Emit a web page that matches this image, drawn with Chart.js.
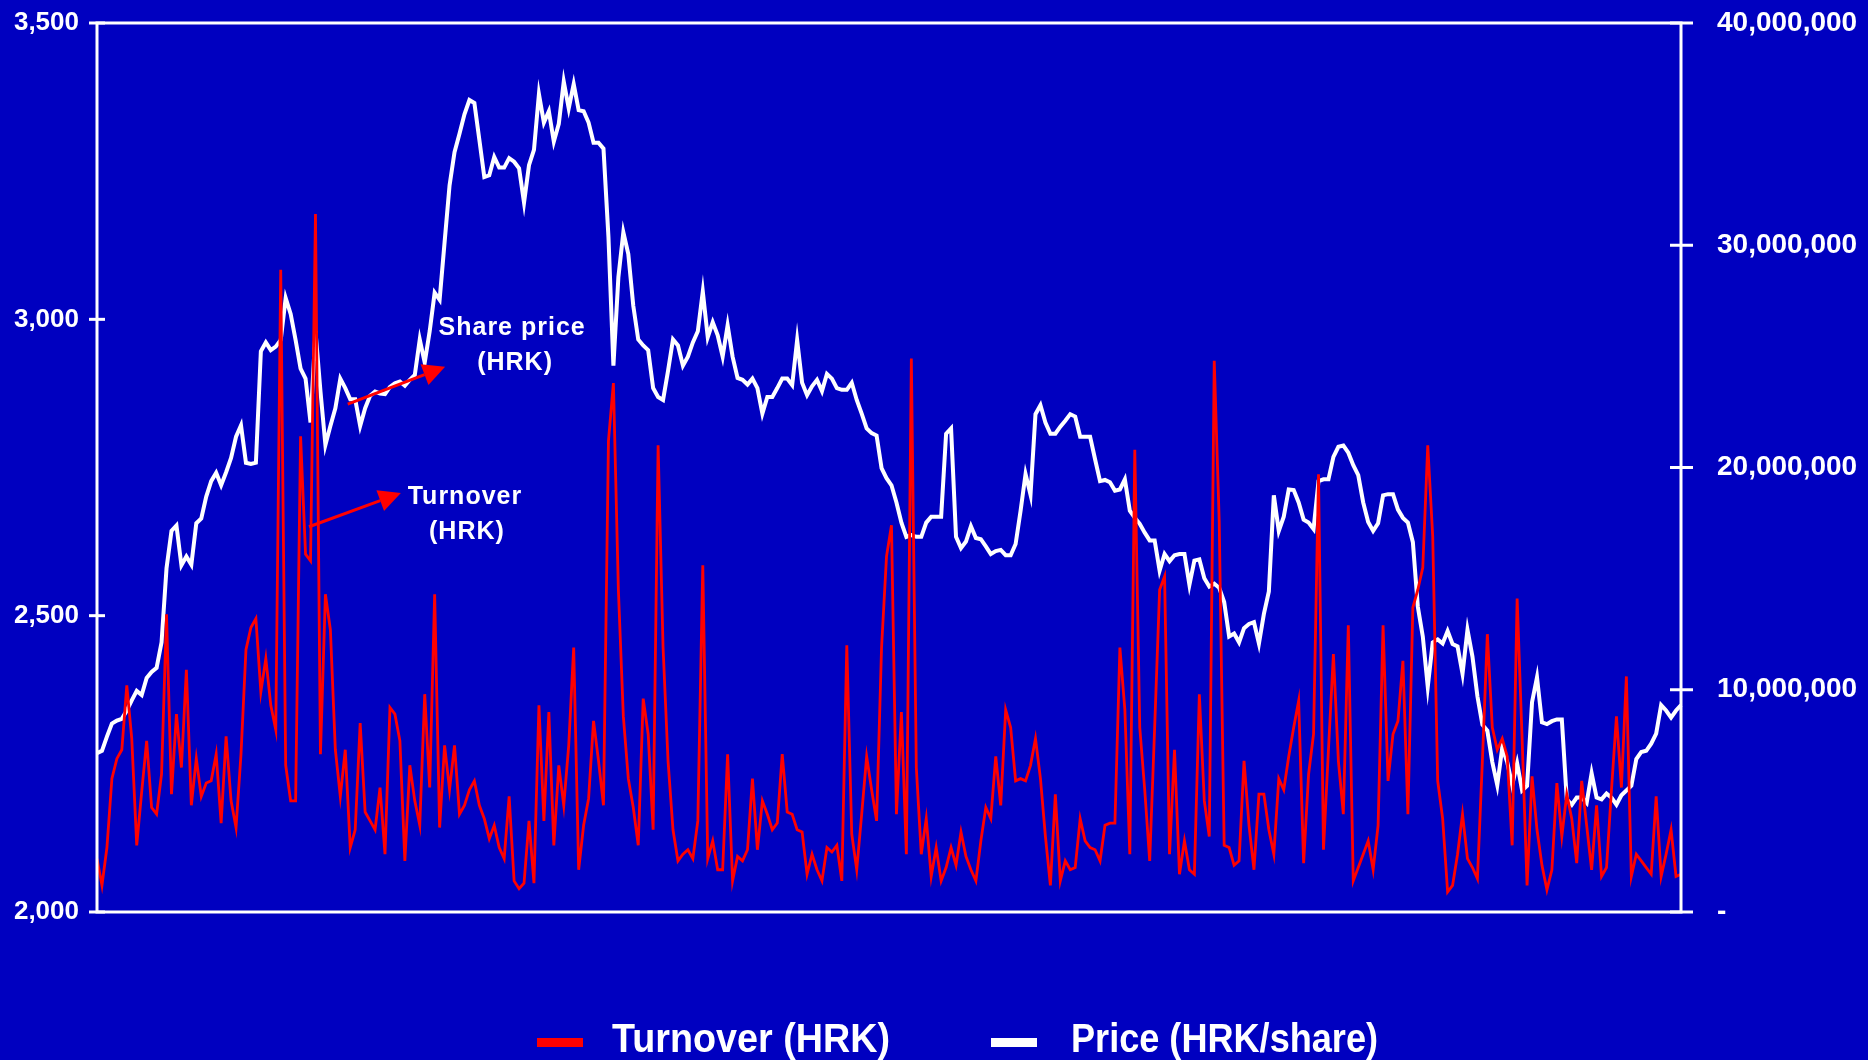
<!DOCTYPE html>
<html>
<head>
<meta charset="utf-8">
<script src="https://cdn.jsdelivr.net/npm/chart.js@4.4.1/dist/chart.umd.min.js"></script>
<style>
  html, body { margin: 0; padding: 0; background: #0000C0; }
  #wrap { width: 1868px; height: 1060px; }
  canvas { display: block; background: #0000C0; }
</style>
</head>
<body>
<div id="wrap"><canvas id="c" width="1868" height="1060"></canvas></div>
<script>
// Share price (HRK/share), daily
const price = [
  2268, 2272, 2296, 2318, 2323, 2326, 2340, 2357, 2373, 2366,
  2395, 2405, 2412, 2455, 2580, 2643, 2652, 2585, 2600, 2586,
  2656, 2664, 2701, 2727, 2741, 2720, 2742, 2766, 2802, 2821,
  2758, 2756, 2758, 2946, 2961, 2948, 2954, 2965, 3036, 3009,
  2965, 2917, 2900, 2826, 2980, 2879, 2788, 2820, 2850, 2900,
  2884, 2865, 2865, 2820, 2850, 2871, 2878, 2875, 2874, 2886,
  2892, 2895, 2888, 2898, 2906, 2966, 2927, 2980, 3045, 3033,
  3130, 3226, 3282, 3313, 3346, 3370, 3365, 3303, 3240, 3243,
  3274, 3256, 3256, 3272, 3266, 3255, 3197, 3260, 3286, 3380,
  3332, 3351, 3300, 3330, 3401, 3356, 3397, 3353, 3351, 3332,
  3298, 3298, 3288, 3139, 2922, 3071, 3147, 3110, 3023, 2966,
  2956, 2948, 2884, 2869, 2864, 2913, 2966, 2956, 2922, 2937,
  2961, 2980, 3047, 2970, 2995, 2973, 2937, 2990, 2937, 2901,
  2898, 2890, 2900, 2884, 2841, 2869, 2869, 2884, 2900, 2900,
  2889, 2965, 2893, 2872, 2887, 2898, 2879, 2908, 2900, 2884,
  2881, 2881, 2893, 2864, 2841, 2816, 2808, 2804, 2749, 2732,
  2720, 2691, 2657, 2633, 2636, 2633, 2633, 2657, 2667, 2667,
  2667, 2807, 2816, 2633, 2614, 2625, 2651, 2631, 2629, 2617,
  2604, 2609, 2611, 2602, 2602, 2621, 2677, 2739, 2704, 2840,
  2855, 2826, 2807, 2807, 2819, 2829, 2840, 2836, 2802, 2802,
  2802, 2764, 2727, 2729, 2725, 2711, 2713, 2730, 2677, 2665,
  2655, 2640, 2627, 2627, 2576, 2604, 2592, 2602, 2604, 2604,
  2552, 2593, 2595, 2563, 2549, 2554, 2547, 2523, 2465, 2470,
  2455, 2479, 2486, 2489, 2453, 2503, 2541, 2703, 2643, 2667,
  2713, 2712, 2691, 2662, 2657, 2646, 2727, 2730, 2730, 2768,
  2785, 2787, 2775, 2754, 2737, 2691, 2658, 2643, 2656, 2703,
  2705, 2705, 2679, 2665, 2657, 2624, 2515, 2465, 2380, 2455,
  2460, 2453, 2474, 2452, 2448, 2402, 2476, 2431, 2364, 2316,
  2306, 2253, 2214, 2277, 2253, 2214, 2251, 2205, 2213, 2354,
  2396, 2320, 2317, 2322, 2325, 2325, 2190, 2181, 2193, 2193,
  2184, 2234, 2193, 2190, 2200, 2193, 2181, 2197, 2205, 2213,
  2258, 2270, 2272, 2284, 2301, 2349, 2340, 2328, 2340, 2349
];

// Daily turnover, millions of HRK
const turnoverM = [
  2.4, 1.2, 2.9, 6.0, 6.9, 7.3, 10.2, 7.8, 3.0, 5.4,
  7.7, 4.7, 4.4, 6.2, 13.4, 5.3, 8.9, 6.5, 10.9, 4.8,
  6.9, 5.2, 5.8, 5.9, 7.1, 4.0, 7.9, 5.0, 3.8, 7.1,
  11.8, 12.8, 13.2, 9.9, 11.4, 9.3, 8.2, 28.9, 6.6, 5.0,
  5.0, 21.4, 16.1, 15.8, 31.4, 7.1, 14.3, 12.7, 7.3, 5.2,
  7.3, 2.9, 3.7, 8.5, 4.5, 4.1, 3.7, 5.6, 2.6, 9.2,
  8.9, 7.7, 2.3, 6.6, 5.0, 3.9, 9.8, 5.6, 14.3, 3.8,
  7.5, 5.5, 7.5, 4.4, 4.8, 5.5, 5.9, 4.8, 4.2, 3.3,
  3.9, 2.9, 2.4, 5.2, 1.4, 1.05, 1.3, 4.1, 1.3, 9.3,
  4.1, 9.0, 3.0, 6.6, 4.8, 7.5, 11.9, 1.9, 3.9, 5.1,
  8.6, 6.8, 4.8, 21.2, 23.8, 14.5, 8.8, 6.0, 4.7, 3.0,
  9.6, 8.0, 3.7, 21.0, 11.9, 6.8, 3.7, 2.3, 2.6, 2.8,
  2.4, 4.1, 15.6, 2.4, 3.2, 1.9, 1.9, 7.1, 1.4, 2.5,
  2.3, 2.8, 6.0, 2.8, 5.0, 4.4, 3.7, 4.0, 7.1, 4.5,
  4.4, 3.7, 3.6, 1.7, 2.6, 1.9, 1.4, 2.9, 2.7, 3.0,
  1.4, 12.0, 3.5, 1.9, 4.4, 7.0, 5.5, 4.1, 11.9, 16.0,
  17.4, 4.4, 9.0, 2.6, 24.9, 6.5, 2.6, 4.2, 1.6, 2.9,
  1.4, 2.0, 2.9, 2.1, 3.6, 2.5, 1.9, 1.4, 3.2, 4.7,
  4.2, 7.0, 4.8, 9.1, 8.3, 5.9, 6.0, 5.9, 6.6, 7.8,
  6.0, 3.4, 1.2, 5.3, 1.4, 2.3, 1.9, 2.0, 4.2, 3.2,
  2.9, 2.8, 2.3, 3.9, 4.0, 4.0, 11.9, 9.1, 2.6, 20.8,
  8.3, 5.5, 2.3, 8.3, 14.5, 15.1, 2.6, 7.3, 1.7, 3.2,
  1.9, 1.7, 9.8, 5.0, 3.4, 24.8, 17.6, 3.0, 2.9, 2.1,
  2.3, 6.8, 3.9, 1.9, 5.3, 5.3, 3.7, 2.6, 6.0, 5.5,
  7.0, 8.3, 9.5, 2.2, 6.2, 8.0, 19.7, 2.8, 7.3, 11.6,
  6.8, 4.4, 12.9, 1.4, 2.0, 2.6, 3.2, 1.9, 3.9, 12.9,
  5.9, 8.0, 8.6, 11.3, 4.4, 13.7, 14.5, 15.5, 21.0, 16.9,
  5.9, 4.2, 0.9, 1.2, 2.6, 4.4, 2.4, 2.0, 1.5, 6.8,
  12.5, 8.3, 7.3, 7.8, 7.0, 3.0, 14.1, 7.8, 1.2, 6.1,
  3.7, 2.1, 1.0, 1.9, 5.8, 3.4, 5.3, 4.2, 2.2, 5.9,
  3.9, 1.9, 4.8, 1.6, 2.0, 5.5, 8.8, 5.6, 10.6, 1.6,
  2.6, 2.3, 2.0, 1.7, 5.2, 1.6, 2.6, 3.7, 1.6, 1.7
];

// Trading-day categories
const days = price.map((_, i) => 'Day ' + (i + 1));

// Axis tick settings
const priceTicks = { min: 2000, max: 3500, step: 500 };
const turnoverTicks = { min: 0, max: 40, step: 10 }; // millions HRK

// Annotations, anchored in data coordinates (day index, price)
const annotations = [
  { lines: ['Share price', '(HRK)'], at: [[83.6, 2974], [84.2, 2915]], arrow: [[50.5, 2857], [70.1, 2920]] },
  { lines: ['Turnover', '(HRK)'], at: [[74.1, 2688], [74.5, 2629]], arrow: [[42.7, 2650], [61.2, 2707]] }
];

const RED = '#FF0000';
const WHITE = '#FFFFFF';
const FONT = '"Liberation Sans", Arial, Helvetica, sans-serif';

function fmt(n) { return Math.round(n).toLocaleString('en-US'); }

function drawArrow(ctx, x1, y1, x2, y2) {
  const ang = Math.atan2(y2 - y1, x2 - x1);
  const len = 22, hw = 11;
  const bx = x2 - len * Math.cos(ang), by = y2 - len * Math.sin(ang);
  ctx.beginPath();
  ctx.moveTo(x1, y1);
  ctx.lineTo(bx, by);
  ctx.stroke();
  ctx.beginPath();
  ctx.moveTo(x2, y2);
  ctx.lineTo(bx + hw * Math.sin(ang), by - hw * Math.cos(ang));
  ctx.lineTo(bx - hw * Math.sin(ang), by + hw * Math.cos(ang));
  ctx.closePath();
  ctx.fill();
}

const decorations = {
  id: 'decorations',
  afterDatasetsDraw(chart) {
    const { ctx, chartArea: a, scales } = chart;
    const xs = scales.x, ys = scales.y, y1 = scales.y1;
    ctx.save();
    // frame
    ctx.strokeStyle = WHITE;
    ctx.lineWidth = 3;
    ctx.strokeRect(a.left, a.top, a.right - a.left, a.bottom - a.top);
    // cross ticks
    ys.ticks.forEach(t => {
      const y = ys.getPixelForValue(t.value);
      ctx.beginPath(); ctx.moveTo(a.left - 8, y); ctx.lineTo(a.left + 8, y); ctx.stroke();
    });
    y1.ticks.forEach(t => {
      const y = y1.getPixelForValue(t.value);
      ctx.beginPath(); ctx.moveTo(a.right - 11, y); ctx.lineTo(a.right + 12, y); ctx.stroke();
    });
    // annotation arrows
    ctx.strokeStyle = RED; ctx.fillStyle = RED; ctx.lineWidth = 3; ctx.lineCap = 'butt';
    annotations.forEach(an => {
      const [p, q] = an.arrow;
      drawArrow(ctx, xs.getPixelForValue(p[0]), ys.getPixelForValue(p[1]),
                     xs.getPixelForValue(q[0]), ys.getPixelForValue(q[1]));
    });
    // annotation text
    ctx.fillStyle = WHITE;
    ctx.font = 'bold 25px ' + FONT;
    ctx.textAlign = 'center';
    ctx.textBaseline = 'alphabetic';
    try { ctx.letterSpacing = '1px'; } catch (e) {}
    annotations.forEach(an => {
      an.lines.forEach((txt, k) => {
        ctx.fillText(txt, xs.getPixelForValue(an.at[k][0]), ys.getPixelForValue(an.at[k][1]));
      });
    });
    try { ctx.letterSpacing = '0px'; } catch (e) {}
    ctx.restore();
  },
  afterDraw(chart) {
    // legend
    const { ctx } = chart;
    const items = [
      { ds: chart.data.datasets[0], box: 537, text: 612, width: 278 },
      { ds: chart.data.datasets[1], box: 991, text: 1071, width: 307 }
    ];
    ctx.save();
    ctx.font = 'bold 41px ' + FONT;
    ctx.textBaseline = 'alphabetic';
    ctx.textAlign = 'left';
    items.forEach(it => {
      ctx.fillStyle = it.ds.borderColor;
      ctx.fillRect(it.box, 1038, 46, 9);
      ctx.fillStyle = WHITE;
      const w = ctx.measureText(it.ds.label).width;
      const sx = it.width / w;
      ctx.save();
      ctx.translate(it.text, 1052);
      ctx.scale(sx, 1);
      ctx.fillText(it.ds.label, 0, 0);
      ctx.restore();
    });
    ctx.restore();
  }
};

new Chart(document.getElementById('c'), {
  type: 'line',
  data: {
    labels: days,
    datasets: [
      {
        label: 'Turnover (HRK)',
        data: turnoverM,
        yAxisID: 'y1',
        borderColor: RED,
        backgroundColor: RED,
        borderWidth: 2.8,
        pointRadius: 0,
        tension: 0,
        fill: false
      },
      {
        label: 'Price (HRK/share)',
        data: price,
        yAxisID: 'y',
        borderColor: WHITE,
        backgroundColor: WHITE,
        borderWidth: 4,
        pointRadius: 0,
        tension: 0,
        fill: false
      }
    ]
  },
  options: {
    responsive: false,
    animation: false,
    events: [],
    layout: { padding: { top: 23, bottom: 148, left: 0, right: 0 } },
    plugins: { legend: { display: false }, tooltip: { enabled: false }, title: { display: false } },
    scales: {
      x: { display: false, offset: false },
      y: {
        position: 'left',
        min: priceTicks.min, max: priceTicks.max,
        grid: { display: false, drawTicks: true, tickLength: 18 },
        border: { display: false },
        ticks: {
          stepSize: priceTicks.step,
          padding: 0,
          color: WHITE,
          font: { family: FONT, size: 26, weight: 'bold' },
          callback: v => fmt(v)
        },
        afterFit: s => { s.width = 97; }
      },
      y1: {
        position: 'right',
        min: turnoverTicks.min, max: turnoverTicks.max,
        grid: { display: false, drawTicks: true, tickLength: 36 },
        border: { display: false },
        ticks: {
          stepSize: turnoverTicks.step,
          padding: 0,
          color: WHITE,
          font: { family: FONT, size: 28, weight: 'bold' },
          callback: v => (v === 0 ? '-' : fmt(v * 1e6))
        },
        afterFit: s => { s.width = 187; }
      }
    }
  },
  plugins: [decorations]
});
</script>
</body>
</html>
